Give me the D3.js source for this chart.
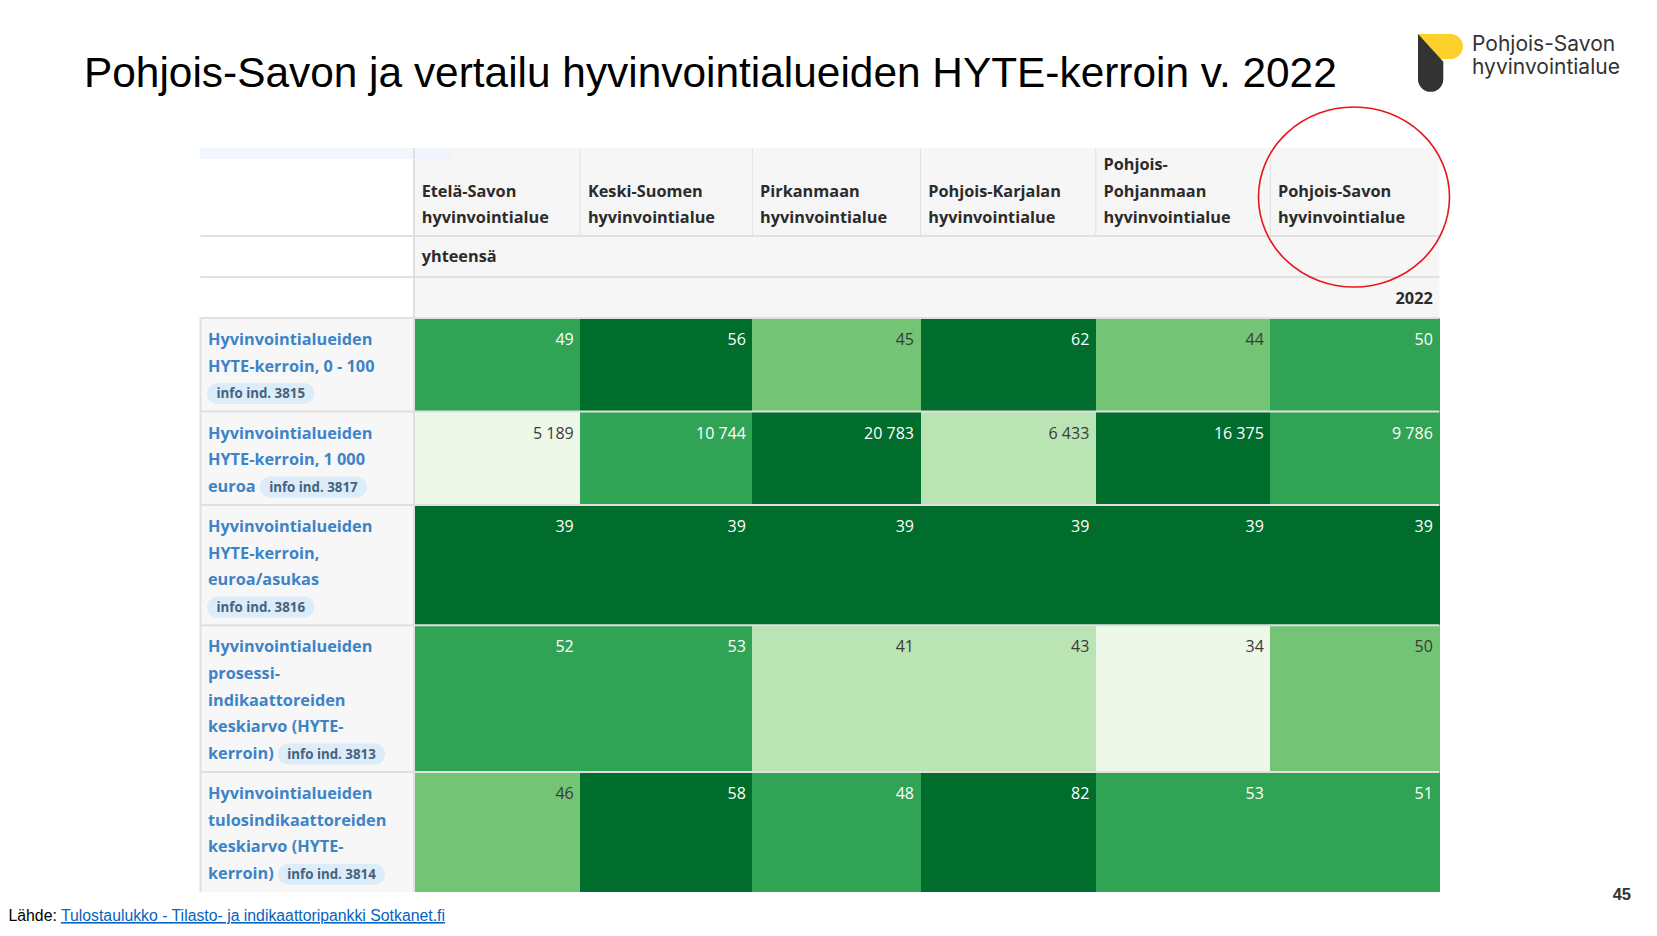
<html>
<head>
<title>HYTE-kerroin 2022</title>
<style>
  body { margin: 0; background: #fff; }
</style>
</head>
<body>
<svg id="chart" width="1657" height="936"></svg>
<script src="https://d3js.org/d3.v7.min.js"></script>
<script>
// --- data ---
const regionLines = [
  ["Etelä-Savon", "hyvinvointialue"],
  ["Keski-Suomen", "hyvinvointialue"],
  ["Pirkanmaan", "hyvinvointialue"],
  ["Pohjois-Karjalan", "hyvinvointialue"],
  ["Pohjois-", "Pohjanmaan", "hyvinvointialue"],
  ["Pohjois-Savon", "hyvinvointialue"]
]
const indicatorLines = [
  ["Hyvinvointialueiden", "HYTE-kerroin, 0 - 100", ""],
  ["Hyvinvointialueiden", "HYTE-kerroin, 1 000", "euroa"],
  ["Hyvinvointialueiden", "HYTE-kerroin,", "euroa/asukas", ""],
  ["Hyvinvointialueiden", "prosessi-", "indikaattoreiden", "keskiarvo (HYTE-", "kerroin)"],
  ["Hyvinvointialueiden", "tulosindikaattoreiden", "keskiarvo (HYTE-", "kerroin)"]
]
const infoIds = ["3815", "3817", "3816", "3813", "3814"]
const values = [
  [49, 56, 45, 62, 44, 50],
  [5189, 10744, 20783, 6433, 16375, 9786],
  [39, 39, 39, 39, 39, 39],
  [52, 53, 41, 43, 34, 50],
  [46, 58, 48, 82, 53, 51]
]
// colour class limits per indicator (classes as shown in the table)
const thresholds = [
  [40, 43, 47, 53],
  [6000, 8000, 9000, 13000],
  [10, 20, 30, 35],
  [38, 46, 51, 60],
  [40, 44, 47, 55]
]
const year = "2022"
const sexLabel = "yhteensä"

// --- layout ---
const svg = d3.select("#chart")
const tableX = 200.5, labelW = 213.5
const colWidths = [166.2, 172.2, 168.1, 175.3, 174.5, 169]
const headTop = 148, headH = 88, subH = 41
const lineH = 26.7, rowPad = 13.4
const dataTop = headTop + headH + subH * 2
const tableFont = "'Open Sans', sans-serif"
const greens = d3.schemeGreens[5]

let offsets = Array.from(d3.cumsum([0, ...colWidths]))
let colX = d3.scaleOrdinal().domain(d3.range(regionLines.length)).range(offsets.map(v => tableX + labelW + v))
let colW = d3.scaleOrdinal().domain(d3.range(regionLines.length)).range(colWidths)
let tableRight = tableX + labelW + offsets[offsets.length - 1]

let rowH = indicatorLines.map(l => l.length * lineH + rowPad)
let rowTops = Array.from(d3.cumsum([0, ...rowH])).map(v => dataTop + v)
let rowY = d3.scaleOrdinal().domain(d3.range(indicatorLines.length)).range(rowTops)
let tableBottom = rowTops[rowTops.length - 1]

let fi = d3.formatLocale({ decimal: ",", thousands: "\u00a0", grouping: [3], currency: ["", " €"] })
let fmt = fi.format(",d")

// --- title ---
svg.append("text")
   .attr("x", 84).attr("y", 86.7)
   .style("font-family", "'Liberation Sans', Arial, sans-serif")
   .style("font-size", "42.4px")
   .style("fill", "#000")
   .text("Pohjois-Savon ja vertailu hyvinvointialueiden HYTE-kerroin v. 2022")

// --- logo ---
let logo = svg.append("g")
logo.append("path").attr("d", "M1418,34 H1450.5 A12.5,12.5 0 0 1 1450.5,59 H1418 Z").style("fill", "#fdd02c")
logo.append("path").attr("d", "M1418,34 L1443.3,61.7 V79.2 A12.6,12.6 0 0 1 1418,79.2 Z").style("fill", "#333")
logo.selectAll("text.logo")
    .data(["Pohjois-Savon", "hyvinvointialue"])
    .enter().append("text")
    .attr("x", 1472).attr("y", (d, i) => 51.2 + i * 22.3)
    .style("font-family", "Inter, Roboto, sans-serif")
    .style("font-size", "21px")
    .style("fill", "#333")
    .text(d => d)

// --- table header ---
let table = svg.append("g")
table.append("rect")
     .attr("x", colX(0)).attr("y", headTop)
     .attr("width", tableRight - colX(0)).attr("height", dataTop - headTop)
     .style("fill", "#f6f6f6")
table.append("rect").attr("x", tableX).attr("y", headTop).attr("width", 251).attr("height", 11)
     .style("fill", "#eef5fb").style("opacity", 0.8)

table.selectAll("line.hsep")
     .data(regionLines.slice(1))
     .enter().append("line")
     .attr("x1", (d, i) => colX(i + 1)).attr("x2", (d, i) => colX(i + 1))
     .attr("y1", headTop).attr("y2", headTop + headH)
     .style("stroke", "#e2e2e2").style("stroke-width", 1)

let heads = table.selectAll("g.head")
     .data(regionLines)
     .enter().append("g")
heads.selectAll("text")
     .data(d => d.map((t, j) => ({ t, k: d.length - 1 - j })))
     .enter().append("text")
     .attr("x", function () { return colX(regionLines.indexOf(d3.select(this.parentNode).datum())) + 7.7 })
     .attr("y", d => headTop + headH - 13 - d.k * 26.5)
     .style("font-family", tableFont).style("font-weight", 700).style("font-size", "16.3px")
     .style("fill", "#2b2b2b")
     .text(d => d.t)

table.append("text")
     .attr("x", colX(0) + 7.7).attr("y", headTop + headH + 26)
     .style("font-family", tableFont).style("font-weight", 700).style("font-size", "16.3px")
     .style("fill", "#2b2b2b").text(sexLabel)
table.append("text")
     .attr("x", tableRight - 6.5).attr("y", headTop + headH + subH + 26.5)
     .attr("text-anchor", "end")
     .style("font-family", tableFont).style("font-weight", 700).style("font-size", "16.3px")
     .style("fill", "#2b2b2b").text(year)

// --- data cells ---
let rows = table.selectAll("g.row")
     .data(values)
     .enter().append("g")
     .attr("transform", (d, i) => `translate(0,${rowY(i)})`)

rows.each(function (rowVals, r) {
  let g = d3.select(this)
  let color = d3.scaleThreshold().domain(thresholds[r]).range(greens)
  let h = rowH[r]
  g.append("rect").attr("x", tableX).attr("y", 0).attr("width", labelW).attr("height", h).style("fill", "#f7f7f7")
  g.selectAll("rect.cell")
   .data(rowVals)
   .enter().append("rect")
   .attr("x", (d, i) => colX(i)).attr("y", 0)
   .attr("width", (d, i) => colW(i) + 0.5).attr("height", h)
   .attr("shape-rendering", "crispEdges")
   .style("fill", d => color(d))
  g.selectAll("text.val")
   .data(rowVals)
   .enter().append("text")
   .attr("x", (d, i) => colX(i) + colW(i) - 6.5)
   .attr("y", 27)
   .attr("text-anchor", "end")
   .style("font-family", tableFont).style("font-size", "16px")
   .style("fill", d => greens.indexOf(color(d)) >= 3 ? "#ffffff" : "#3a3a3a")
   .text(d => fmt(d))

  // indicator label
  let lines = indicatorLines[r]
  let last = null
  lines.forEach((t, j) => {
    let tx = g.append("text")
      .attr("x", 208).attr("y", 27 + j * lineH)
      .style("font-family", tableFont).style("font-weight", 700).style("font-size", "16.3px")
      .style("fill", "#3d83c8")
      .text(t)
    if (j === lines.length - 1) last = tx
  })
  let bx = 207 + (lines[lines.length - 1] ? last.node().getComputedTextLength() + 5 : 0)
  let by = 27 + (lines.length - 1) * lineH
  let badge = g.append("g")
  let bt = badge.append("text")
      .attr("x", bx + 9.5).attr("y", by)
      .style("font-family", tableFont).style("font-weight", 700).style("font-size", "13.3px")
      .style("fill", "#45627f")
      .text("info ind. " + infoIds[r])
  let bw = bt.node().getComputedTextLength() + 19
  badge.insert("rect", "text")
      .attr("x", bx).attr("y", by - 15.5)
      .attr("width", bw).attr("height", 21).attr("rx", 10.5)
      .style("fill", "#dcecf8")
})

// --- grid lines ---
let hLines = [headTop + headH, headTop + headH + subH, dataTop, ...rowTops.slice(1, -1)]
table.selectAll("line.grid")
     .data(hLines)
     .enter().append("line")
     .attr("x1", tableX).attr("x2", tableRight)
     .attr("y1", d => d).attr("y2", d => d)
     .style("stroke", "#e0e0e0").style("stroke-width", 2)
table.append("line")
     .attr("x1", colX(0)).attr("x2", colX(0))
     .attr("y1", headTop).attr("y2", tableBottom)
     .style("stroke", "#e0e0e0").style("stroke-width", 2)
table.append("line")
     .attr("x1", tableX).attr("x2", tableX)
     .attr("y1", dataTop).attr("y2", tableBottom)
     .style("stroke", "#e0e0e0").style("stroke-width", 2)

// --- red ring round Pohjois-Savon ---
svg.append("ellipse")
   .attr("cx", 1354).attr("cy", 197).attr("rx", 95.5).attr("ry", 90)
   .style("fill", "none").style("stroke", "#e8161b").style("stroke-width", 1.6)

// --- source & page number ---
let src = svg.append("text")
   .attr("x", 8.5).attr("y", 921)
   .style("font-family", "'Liberation Sans', Arial, sans-serif")
   .style("font-size", "15.8px")
src.append("tspan").style("fill", "#000").text("Lähde: ")
src.append("tspan").style("fill", "#0563c1").style("text-decoration", "underline")
   .text("Tulostaulukko - Tilasto- ja indikaattoripankki Sotkanet.fi")

svg.append("text")
   .attr("x", 1631).attr("y", 900).attr("text-anchor", "end")
   .style("font-family", "'Liberation Sans', Arial, sans-serif")
   .style("font-size", "16.5px").style("font-weight", "bold")
   .style("fill", "#333").text("45")
</script>
</body>
</html>
